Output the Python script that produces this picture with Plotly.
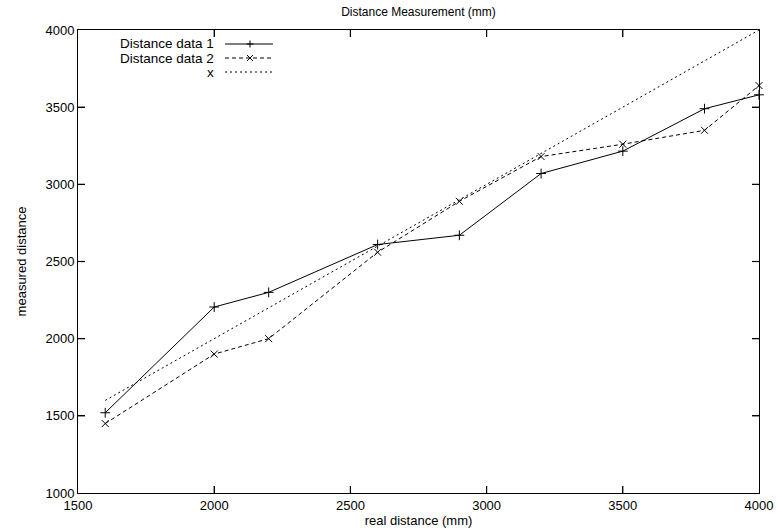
import plotly.graph_objects as go

real_distance = [1600, 2000, 2200, 2600, 2900, 3200, 3500, 3800, 4000]
data1 = [1520, 2205, 2300, 2610, 2670, 3070, 3215, 3490, 3580]
data2 = [1450, 1900, 2000, 2560, 2890, 3180, 3260, 3350, 3640]
ideal_x = [1600, 4000]
ideal_y = [1600, 4000]
x_ticks = [1500, 2000, 2500, 3000, 3500, 4000]
y_ticks = [1000, 1500, 2000, 2500, 3000, 3500, 4000]

names = ["Distance data 1", "Distance data 2", "x"]
dashes = ["solid", "4px,3px", "2px,3px"]
symbols = ["cross-thin", "x-thin", None]

FONT = "Liberation Sans, Arial, Helvetica, sans-serif"
L, R, T, B = 78, 18, 30, 38
W, H = 777, 531
pw = W - L - R
ph = H - T - B
TL = 7  # tick length in px

fig = go.Figure()
series = [(real_distance, data1), (real_distance, data2), (ideal_x, ideal_y)]
for (xs, ys), nm, d, s in zip(series, names, dashes, symbols):
    fig.add_trace(go.Scatter(
        x=xs, y=ys, name=nm, showlegend=False, cliponaxis=False,
        mode="lines+markers" if s else "lines",
        line=dict(color="black", width=1, dash=d),
        marker=dict(symbol=s, size=7, line=dict(color="black", width=1), color="black") if s else None,
    ))

# gnuplot-style legend (text right-aligned, sample to the right)
def px_x(p):
    return (p - L) / pw

def px_y(p):
    return 1 - (p - T) / ph

rows = [44, 58, 72]
for yy, nm, d, s in zip(rows, names, dashes, symbols):
    fig.add_annotation(x=px_x(216), y=px_y(yy), xref="paper", yref="paper",
                       text=nm, showarrow=False, xanchor="right", yanchor="middle",
                       font=dict(family=FONT, size=13.5, color="black"))
    fig.add_shape(type="line", xref="paper", yref="paper",
                  x0=px_x(225), x1=px_x(273), y0=px_y(yy), y1=px_y(yy),
                  line=dict(color="black", width=1, dash=d))
    if s == "cross-thin":
        path = (f"M {px_x(246.5)} {px_y(yy)} L {px_x(253.5)} {px_y(yy)} "
                f"M {px_x(250)} {px_y(yy - 3.5)} L {px_x(250)} {px_y(yy + 3.5)}")
    elif s == "x-thin":
        path = (f"M {px_x(247)} {px_y(yy - 3)} L {px_x(253)} {px_y(yy + 3)} "
                f"M {px_x(247)} {px_y(yy + 3)} L {px_x(253)} {px_y(yy - 3)}")
    else:
        path = None
    if path:
        fig.add_shape(type="path", xref="paper", yref="paper", path=path,
                      line=dict(color="black", width=1))

# gnuplot-style inward tick marks on all four sides, placed by the axis scales
tick_line = dict(color="black", width=1.2)
for xv in x_ticks[1:-1]:
    for y0, y1 in ((0, TL / ph), (1, 1 - TL / ph)):
        fig.add_shape(type="line", xref="x", yref="paper", x0=xv, x1=xv, y0=y0, y1=y1,
                      line=tick_line, layer="above")
for yv in y_ticks[1:-1]:
    for x0, x1 in ((0, TL / pw), (1, 1 - TL / pw)):
        fig.add_shape(type="line", xref="paper", yref="y", x0=x0, x1=x1, y0=yv, y1=yv,
                      line=tick_line, layer="above")

axis_common = dict(
    showgrid=False, zeroline=False, showline=True, linecolor="black", linewidth=1,
    mirror="allticks", ticks="inside", ticklen=TL, tickcolor="black", tickwidth=1,
    automargin=False,
    tickfont=dict(family=FONT, size=13, color="black"),
)

fig.update_layout(
    width=W, height=H,
    margin=dict(l=L, r=R, t=T, b=B, autoexpand=False),
    paper_bgcolor="white", plot_bgcolor="white",
    font=dict(family=FONT, color="black"),
    title=dict(text="Distance Measurement (mm)", x=(L + pw / 2) / W, xanchor="center",
               y=1 - 12 / H, yanchor="middle", font=dict(family=FONT, size=12, color="black")),
    xaxis=dict(range=[1500, 4000], tickvals=x_ticks, ticktext=[str(v) for v in x_ticks],
               title=dict(text="real distance (mm)", standoff=0, font=dict(family=FONT, size=13)),
               **axis_common),
    yaxis=dict(range=[1000, 4000], tickvals=y_ticks, ticktext=[str(v) for v in y_ticks],
               title=dict(text="measured distance", standoff=15, font=dict(family=FONT, size=13)),
               **axis_common),
)

fig.write_html("out.html", config={"displayModeBar": False},
               post_script="document.body.style.margin='0';document.body.style.padding='0';"
                           "document.documentElement.style.overflow='hidden';")
